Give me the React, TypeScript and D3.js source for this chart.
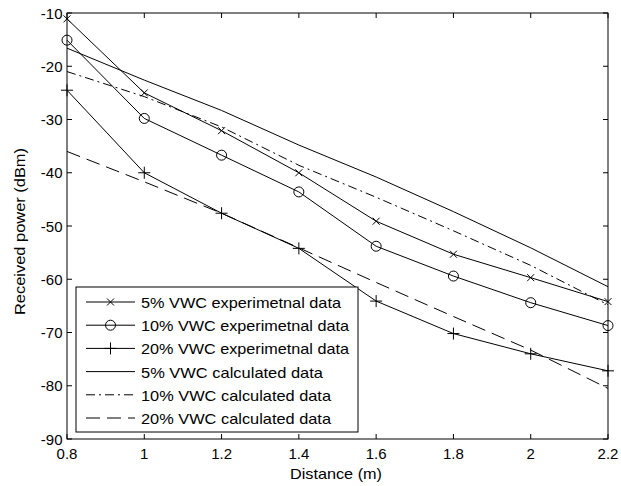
import React from "react";
import * as d3 from "d3";

const distances = [0.8, 1.0, 1.2, 1.4, 1.6, 1.8, 2.0, 2.2];
const exp5 = [-11.1, -25.0, -32.1, -40.0, -49.1, -55.3, -59.7, -64.2];
const exp10 = [-15.1, -29.8, -36.7, -43.6, -53.8, -59.4, -64.4, -68.7];
const exp20 = [-24.5, -40.0, -47.6, -54.2, -64.1, -70.2, -74.0, -77.2];
const calc5 = [-16.6, -22.6, -28.3, -34.8, -40.8, -47.3, -54.1, -61.4];
const calc10 = [-21.0, -25.7, -31.4, -38.6, -44.6, -50.9, -57.4, -64.8];
const calc20 = [-36.0, -41.7, -47.6, -54.1, -60.6, -67.0, -73.3, -80.5];

const xTicks = [0.8, 1, 1.2, 1.4, 1.6, 1.8, 2, 2.2];
const yTicks = [-90, -80, -70, -60, -50, -40, -30, -20, -10];

const legendLabels = [
  "5% VWC experimetnal data",
  "10% VWC experimetnal data",
  "20% VWC experimetnal data",
  "5% VWC calculated data",
  "10% VWC calculated data",
  "20% VWC calculated data",
];
const legendWidths = [200, 208, 208, 182, 190, 190];

type Series = { values: number[]; marker: string | null; dash: string | null };
const series: Series[] = [
  { values: exp5, marker: "x", dash: null },
  { values: exp10, marker: "o", dash: null },
  { values: exp20, marker: "+", dash: null },
  { values: calc5, marker: null, dash: null },
  { values: calc10, marker: null, dash: "9,4,2,4" },
  { values: calc20, marker: null, dash: "14,7" },
];

const W = 621;
const H = 486;
const left = 67;
const right = 608;
const top = 13;
const bottom = 439;
const font = "Arial, 'Liberation Sans', sans-serif";

function Marker({ type, x, y }: { type: string; x: number; y: number }) {
  if (type === "x") {
    const s = 3.5;
    return (
      <path
        d={`M${x - s},${y - s}L${x + s},${y + s}M${x - s},${y + s}L${x + s},${y - s}`}
        stroke="#000"
        strokeWidth={1}
        fill="none"
      />
    );
  }
  if (type === "o") {
    return <circle cx={x} cy={y} r={5} stroke="#000" strokeWidth={1} fill="none" />;
  }
  const s = 6;
  return (
    <path
      d={`M${x - s},${y}L${x + s},${y}M${x},${y - s}L${x},${y + s}`}
      stroke="#000"
      strokeWidth={1}
      fill="none"
    />
  );
}

export default function App() {
  const xs = d3.scaleLinear().domain([0.8, 2.2]).range([left, right]);
  const ys = d3.scaleLinear().domain([-90, -10]).range([bottom, top]);
  const line = d3
    .line<number>()
    .x((_, i) => xs(distances[i]))
    .y((d) => ys(d));

  const legX = 76;
  const legY = 287;
  const legW = 282;
  const legH = 145;
  const rowY0 = 302;
  const rowStep = 23.2;

  return (
    <svg
      width={W}
      height={H}
      style={{ position: "absolute", left: 0, top: 0, background: "#fff" }}
      fontFamily={font}
    >
      <rect x={0} y={0} width={W} height={H} fill="#fff" />
      {/* ticks */}
      {xTicks.map((t) => (
        <g key={"xt" + t}>
          <line x1={xs(t)} x2={xs(t)} y1={bottom} y2={bottom - 5} stroke="#000" />
          <line x1={xs(t)} x2={xs(t)} y1={top} y2={top + 5} stroke="#000" />
          <text x={xs(t)} y={458.5} fontSize={15} textAnchor="middle" fill="#000">
            {String(t)}
          </text>
        </g>
      ))}
      {yTicks.map((t) => (
        <g key={"yt" + t}>
          <line x1={left} x2={left + 5} y1={ys(t)} y2={ys(t)} stroke="#000" />
          <line x1={right} x2={right - 5} y1={ys(t)} y2={ys(t)} stroke="#000" />
          <text x={62.5} y={ys(t) + 5.5} fontSize={15} textAnchor="end" fill="#000">
            {String(t)}
          </text>
        </g>
      ))}
      {/* series */}
      {series.map((s, si) => (
        <g key={"s" + si}>
          <path
            d={line(s.values) || ""}
            fill="none"
            stroke="#000"
            strokeWidth={1}
            strokeDasharray={s.dash || undefined}
          />
          {s.marker &&
            s.values.map((v, i) => (
              <Marker key={i} type={s.marker as string} x={xs(distances[i])} y={ys(v)} />
            ))}
        </g>
      ))}
      {/* box */}
      <rect
        x={left}
        y={top}
        width={right - left}
        height={bottom - top}
        fill="none"
        stroke="#000"
        strokeWidth={1}
      />
      {/* legend */}
      <rect x={legX} y={legY} width={legW} height={legH} fill="#fff" stroke="#000" strokeWidth={1} />
      {series.map((s, i) => {
        const y = rowY0 + i * rowStep;
        return (
          <g key={"lg" + i}>
            <line
              x1={86}
              x2={135}
              y1={y}
              y2={y}
              stroke="#000"
              strokeWidth={1}
              strokeDasharray={s.dash || undefined}
            />
            {s.marker && <Marker type={s.marker} x={110.5} y={y} />}
            <text
              x={141}
              y={y + 6}
              fontSize={15}
              fill="#000"
              textLength={legendWidths[i]}
              lengthAdjust="spacingAndGlyphs"
            >
              {legendLabels[i]}
            </text>
          </g>
        );
      })}
      {/* axis labels */}
      <text
        x={336}
        y={479}
        fontSize={14.5}
        textAnchor="middle"
        fill="#000"
        textLength={92}
        lengthAdjust="spacingAndGlyphs"
      >
        Distance (m)
      </text>
      <text
        transform={`translate(25,231.5) rotate(-90)`}
        fontSize={14}
        textAnchor="middle"
        fill="#000"
        textLength={167}
        lengthAdjust="spacingAndGlyphs"
      >
        Received power (dBm)
      </text>
    </svg>
  );
}
